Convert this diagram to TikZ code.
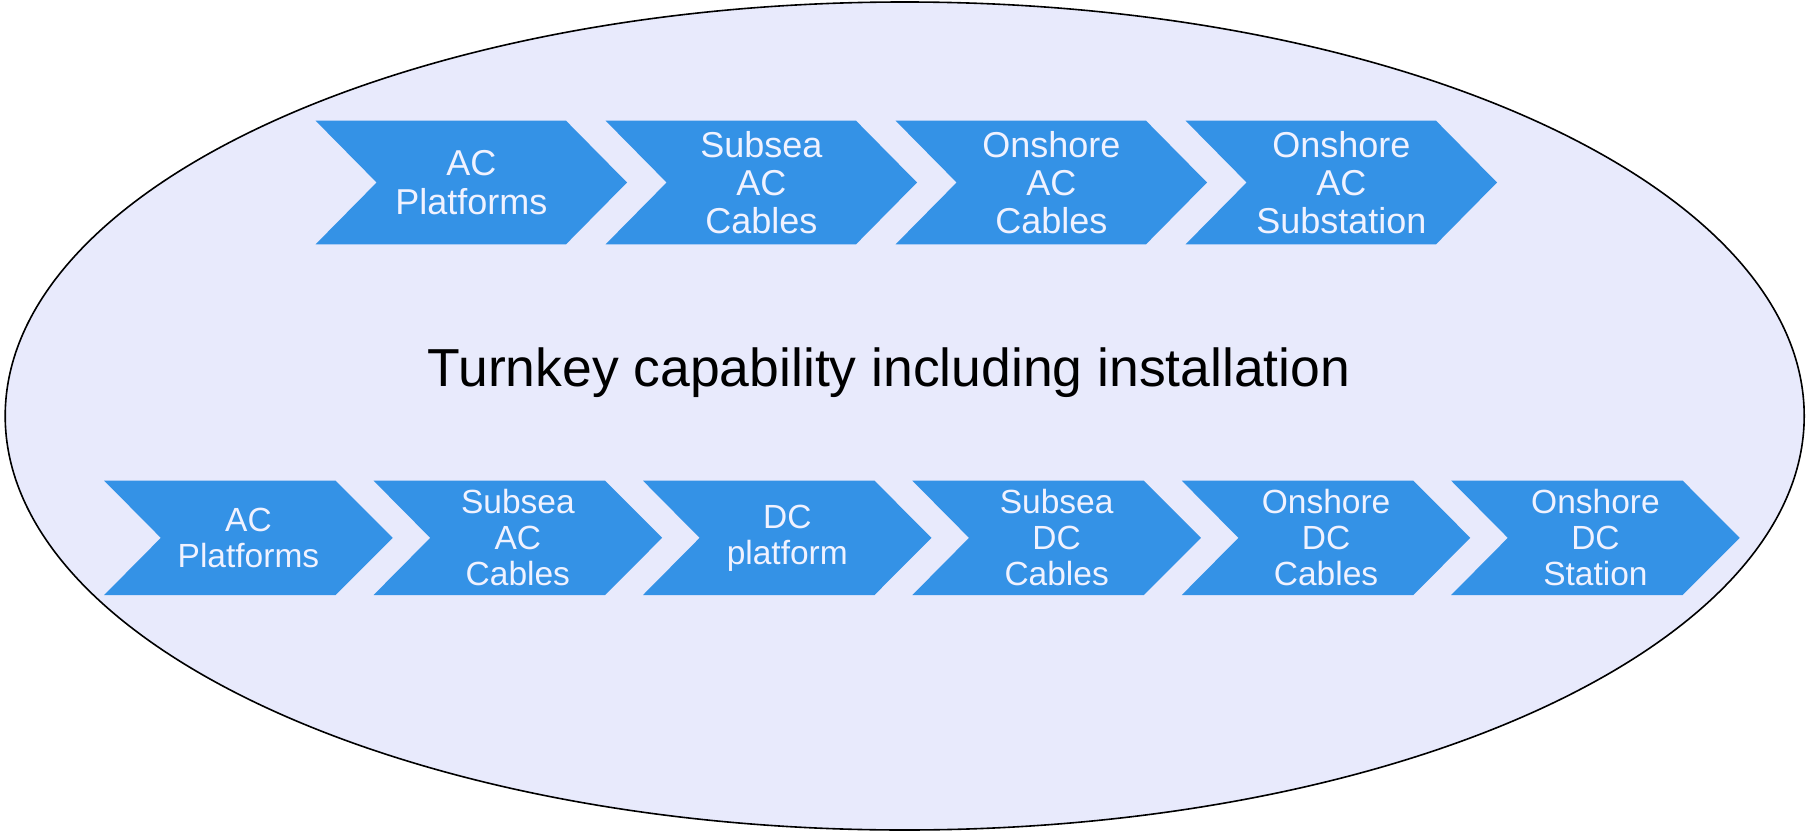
\documentclass[tikz,border=0pt]{standalone}
\usepackage{fontspec}
\setmainfont{Liberation Sans}
\definecolor{oval}{RGB}{232,234,252}
\definecolor{chevfill}{RGB}{52,146,230}
\definecolor{chevtext}{RGB}{240,242,255}
\tikzset{
  chevshape/.style={fill=chevfill},
  toptext/.style={text=chevtext, align=center, inner sep=0pt,
    font=\fontsize{36}{38.3}\selectfont},
  bottext/.style={text=chevtext, align=center, inner sep=0pt,
    font=\fontsize{33.5}{36}\selectfont},
}
\begin{document}
\begin{tikzpicture}[x=1pt,y=-1pt]
\useasboundingbox (0,0) rectangle (1806,832);
% background oval
\draw[fill=oval, line width=1.6pt] (904.7,416) ellipse [x radius=899.5, y radius=414];
\node[font=\fontsize{53.5}{60}\selectfont, anchor=base, inner sep=0pt] (title) at (889,386)
  {Turnkey capability including installation};
% upper row of chevrons
\foreach \i/\txt in {0/{AC\\Platforms}, 1/{Subsea\\AC\\Cables}, 2/{Onshore\\AC\\Cables}, 3/{Onshore\\AC\\Substation}}{
  \pgfmathsetmacro{\L}{315.6+290*\i}
  \fill[chevshape] (\L,120.7) -- ++(250.4,0) -- ++(61,61.8) -- ++(-61,61.8)
    -- ++(-250.4,0) -- ++(61,-61.8) -- cycle;
  \node[toptext] (up\i) at (\L+155.7,182.5) {\txt};
}
% lower row of chevrons
\foreach \i/\txt in {0/{AC\\Platforms}, 1/{Subsea\\AC\\Cables}, 2/{DC\\platform}, 3/{Subsea\\DC\\Cables}, 4/{Onshore\\DC\\Cables}, 5/{Onshore\\DC\\Station}}{
  \pgfmathsetmacro{\L}{104.2+269.4*\i}
  \fill[chevshape] (\L,480.7) -- ++(231.5,0) -- ++(57,57.15) -- ++(-57,57.15)
    -- ++(-231.5,0) -- ++(56.6,-57.15) -- cycle;
  \node[bottext] (lo\i) at (\L+144.25,537.85) {\txt};
}
\end{tikzpicture}
\end{document}
